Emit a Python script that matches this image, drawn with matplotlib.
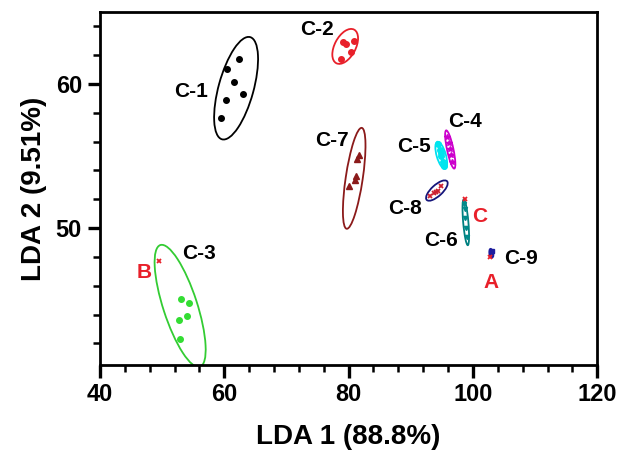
import numpy as np
import matplotlib
matplotlib.use("Agg")
import matplotlib.pyplot as plt
from matplotlib.patches import Ellipse
from matplotlib.transforms import ScaledTranslation
from matplotlib.ticker import MultipleLocator

plt.rcParams['font.family'] = ['Liberation Sans', 'DejaVu Sans']
plt.rcParams['font.weight'] = 'bold'

# cluster scores (LDA 1, LDA 2)
c1_x = [62.4, 60.5, 61.5, 63.0, 60.3, 59.5]
c1_y = [61.7, 61.0, 60.1, 59.3, 58.9, 57.6]
c2_x = [79.1, 79.6, 80.8, 80.4, 78.8]
c2_y = [62.9, 62.8, 63.0, 62.2, 61.7]
c3_x = [53.0, 54.3, 54.0, 52.7, 52.9]
c3_y = [45.1, 44.8, 43.9, 43.6, 42.3]
c4_x = [95.9, 96.1, 96.3, 96.4, 96.7]
c4_y = [56.3, 55.9, 55.5, 55.1, 54.6]
c5_x = [94.4, 94.7, 94.9, 95.2, 95.4, 94.8]
c5_y = [55.8, 55.4, 55.0, 54.6, 54.3, 55.2]
c6_x = [98.6, 98.7, 98.8, 98.9, 99.0]
c6_y = [51.7, 51.3, 50.7, 50.0, 49.4]
c7_x = [81.6, 81.4, 81.2, 81.1, 80.1]
c7_y = [55.1, 54.8, 53.6, 53.3, 52.9]
c8_x = [93.1, 93.8, 94.4, 94.9, 94.1]
c8_y = [52.2, 52.4, 52.6, 52.9, 52.5]
c9_x = [103.0, 102.95]
c9_y = [48.4, 48.2]

# unknown samples
unk_names = ['A', 'B', 'C']
unk_x = [102.8, 49.5, 98.8]
unk_y = [48.0, 47.7, 52.0]

# group centres
cen_x = [61.9, 79.45, 52.9, 96.35, 94.9, 98.85, 80.9, 94.2, 102.95]
cen_y = [59.7, 62.6, 44.6, 55.45, 55.05, 50.4, 53.45, 52.6, 48.25]

fig = plt.figure(figsize=(6.17, 4.54), dpi=100)
ax = fig.add_axes([0.162, 0.196, 0.806, 0.778])

# ellipse shapes in screen pixels: half-length, half-width, angle
shapes = [(53, 17.5, 74.6), (19, 10.5, 62), (64, 17, 108), (19.5, 3.2, 102),
          (14, 4.6, 106), (23, 2.6, 95), (51, 8.5, 81.5), (13.8, 5.5, 42.5),
          (4.5, 1.8, 100)]
colors = ['black', '#e8202a', '#33cc33', '#cc00cc', '#00e0f0', '#008080',
          '#8b1a1a', '#15157a', '#1e1e9e']

for i in range(len(cen_x)):
    a, b, ang = shapes[i]
    tr = fig.dpi_scale_trans + ScaledTranslation(cen_x[i], cen_y[i], ax.transData)
    ax.add_patch(Ellipse((0, 0), 2 * a / 100, 2 * b / 100, angle=ang,
                         transform=tr, fill=False, ec=colors[i], lw=1.3))

ax.plot(c1_x, c1_y, 'o', color='black', ms=4)
ax.plot(c2_x, c2_y, 'o', color='#e8202a', ms=4)
ax.plot(c3_x, c3_y, 'o', color='#33dd33', ms=4)
ax.plot(c4_x, c4_y, '*', color='#cc00cc', ms=4)
ax.plot(c5_x, c5_y, 'o', color='#00e5ee', ms=4)
ax.plot(c6_x, c6_y, 'v', color='#008b8b', ms=3)
ax.plot(c7_x, c7_y, '^', color='#8b1a1a', ms=4)
ax.plot(c8_x, c8_y, 'x', color='#cc2030', ms=3.5, mew=1.3)
ax.plot(c9_x, c9_y, 's', color='#1e1e9e', ms=2.5)
ax.plot(unk_x, unk_y, 'x', color='#e8202a', ms=3.5, mew=1.3)

# labels
lab_names = ['C-1', 'C-2', 'C-3', 'C-4', 'C-5', 'C-6', 'C-7', 'C-8', 'C-9']
lab_x = [54.6, 74.9, 55.9, 98.8, 90.6, 94.8, 77.3, 89.0, 107.7]
lab_y = [59.5, 63.75, 48.25, 57.4, 55.65, 49.15, 56.1, 51.35, 47.9]
for n, x, y in zip(lab_names, lab_x, lab_y):
    ax.text(x, y, n, fontsize=15, fontweight='bold', ha='center', va='center')

unk_lx = [102.9, 47.1, 101.1]
unk_ly = [46.25, 46.9, 50.8]
for n, x, y in zip(unk_names, unk_lx, unk_ly):
    ax.text(x, y, n, fontsize=15, fontweight='bold', color='#e8202a',
            ha='center', va='center')

ax.set_xlim(40, 120)
ax.set_ylim(40.5, 65)
ax.set_xticks([40, 60, 80, 100, 120])
ax.set_yticks([50, 60])
ax.xaxis.set_minor_locator(MultipleLocator(4))
ax.yaxis.set_minor_locator(MultipleLocator(2))
ax.tick_params(which='major', length=9, width=2.4, labelsize=17, pad=4)
ax.tick_params(which='minor', length=5, width=1.8)
for s in ax.spines.values():
    s.set_linewidth(2)

ax.set_xlabel('LDA 1 (88.8%)', fontsize=20, fontweight='bold', labelpad=13)
ax.set_ylabel('LDA 2 (9.51%)', fontsize=20, fontweight='bold', labelpad=6)

fig.savefig('out.png', dpi=100)
